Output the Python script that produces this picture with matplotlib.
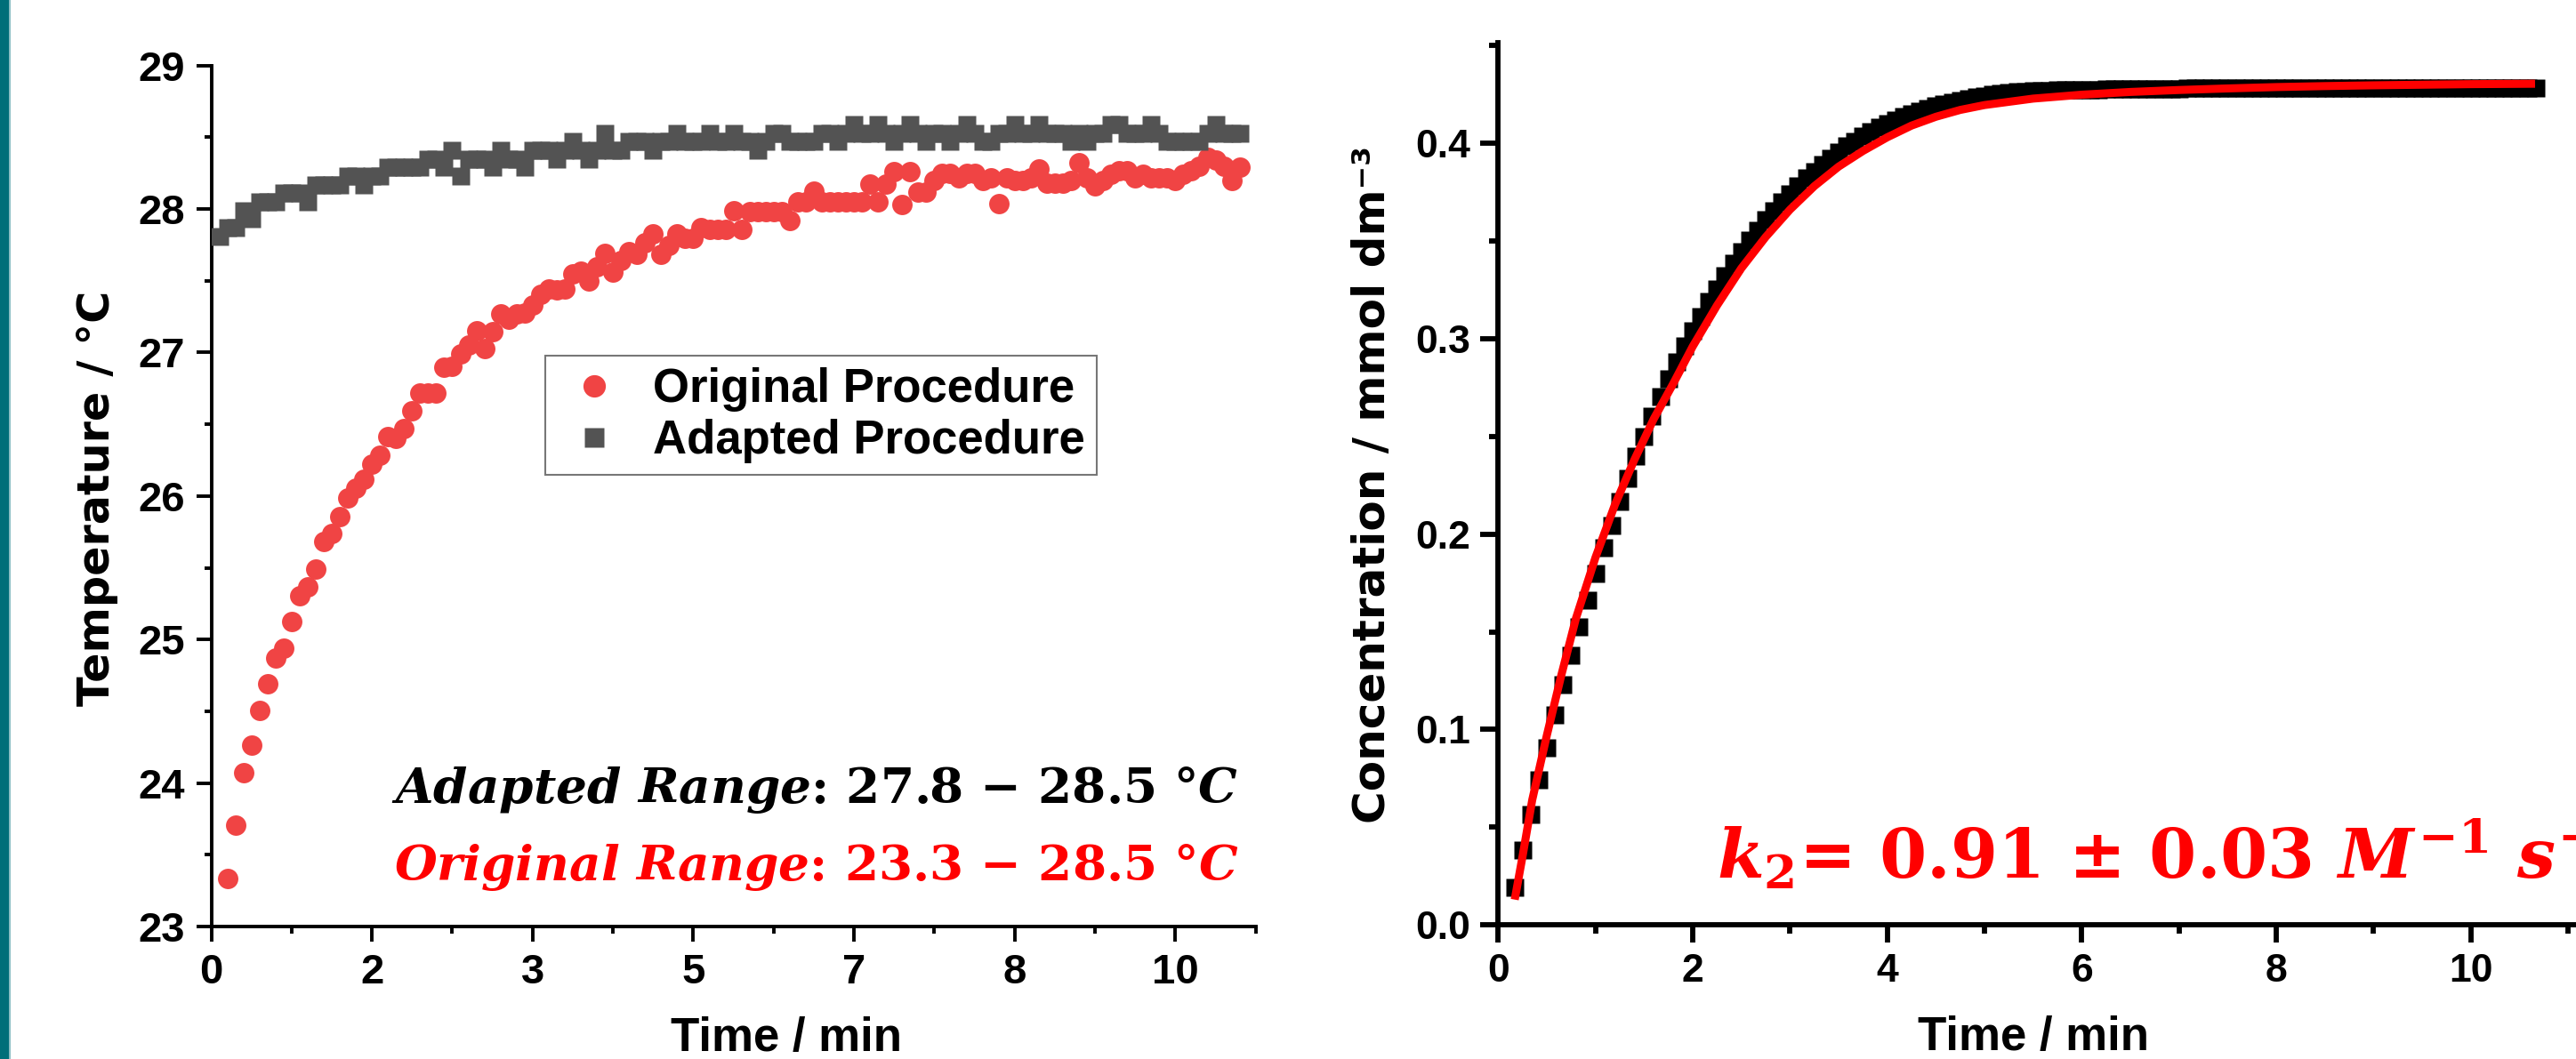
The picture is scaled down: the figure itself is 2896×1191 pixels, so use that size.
import numpy as np
import matplotlib
matplotlib.use('Agg')
import matplotlib.pyplot as plt
from matplotlib.ticker import FixedLocator, MultipleLocator
from matplotlib.patches import Rectangle

plt.rcParams['mathtext.fontset'] = 'custom'
plt.rcParams['mathtext.it'] = 'DejaVu Serif:italic:bold'
plt.rcParams['mathtext.rm'] = 'DejaVu Serif:bold'
plt.rcParams['mathtext.bf'] = 'DejaVu Serif:bold'

# ---------------- data: left panel (temperature) ----------------
orig_time_s = np.arange(10, 645, 5)      # sampling every 5 s
adapt_time_s = np.arange(5, 645, 5)
orig_temp = [
    23.335, 23.706, 24.073, 24.263, 24.507, 24.693, 24.870, 24.941, 25.127, 25.304,
    25.367, 25.494, 25.683, 25.738, 25.857, 25.987, 26.054, 26.117, 26.224, 26.283,
    26.413, 26.401, 26.468, 26.591, 26.717, 26.717, 26.717, 26.895, 26.902, 26.993,
    27.052, 27.151, 27.025, 27.143, 27.270, 27.230, 27.270, 27.277, 27.329, 27.408,
    27.445, 27.435, 27.440,
    27.548, 27.569, 27.497, 27.600, 27.692, 27.558, 27.641, 27.703, 27.682, 27.765,
    27.827, 27.682, 27.744, 27.827, 27.796, 27.796, 27.868, 27.858, 27.858, 27.858,
    27.991, 27.858, 27.981, 27.981, 27.981, 27.981, 27.981, 27.919, 28.053, 28.053,
    28.126, 28.053, 28.053, 28.053, 28.053, 28.053, 28.053, 28.177, 28.053, 28.177,
    28.260,
    28.03, 28.26, 28.12, 28.12, 28.20, 28.25, 28.25, 28.22, 28.25, 28.25,
    28.20, 28.22, 28.04, 28.22, 28.20, 28.20, 28.22, 28.28, 28.18, 28.18,
    28.18, 28.20, 28.32, 28.22, 28.16, 28.20, 28.24, 28.27, 28.27, 28.22,
    28.24, 28.22, 28.22, 28.22, 28.20, 28.24, 28.27, 28.30, 28.36, 28.34,
    28.30, 28.20, 28.29,
]
adapt_temp = [
    27.81, 27.87, 27.87, 27.99, 27.93, 28.05, 28.05, 28.05, 28.11, 28.11,
    28.11, 28.05, 28.17, 28.17, 28.17, 28.17, 28.23, 28.23, 28.17, 28.23,
    28.23, 28.29, 28.29, 28.29, 28.29, 28.29, 28.35, 28.35, 28.29, 28.41,
    28.23, 28.35, 28.35, 28.35, 28.29, 28.41, 28.35, 28.35, 28.29, 28.41,
    28.41, 28.41, 28.35, 28.41, 28.47, 28.41, 28.35, 28.41, 28.53, 28.41,
    28.41, 28.47, 28.47, 28.47, 28.41, 28.47, 28.47, 28.53, 28.47, 28.47,
    28.47, 28.53, 28.47, 28.47, 28.53, 28.47, 28.47, 28.41, 28.47, 28.53,
    28.53, 28.47, 28.47, 28.47, 28.47, 28.53, 28.53, 28.47, 28.53, 28.59,
    28.53, 28.53, 28.59, 28.53, 28.47, 28.53, 28.59, 28.53, 28.47, 28.53,
    28.53, 28.47, 28.53, 28.59, 28.53, 28.47, 28.47, 28.53, 28.53, 28.59,
    28.53, 28.53, 28.59, 28.53, 28.53, 28.53, 28.47, 28.53, 28.47, 28.53,
    28.53, 28.59, 28.59, 28.53, 28.53, 28.53, 28.59, 28.53, 28.47, 28.47,
    28.47, 28.47, 28.47, 28.53, 28.59, 28.53, 28.53, 28.53,
]
left_xtick_s = [0, 100, 200, 300, 400, 500, 600]
left_xtick_labels = ['0', '2', '3', '5', '7', '8', '10']
left_yticks = [23, 24, 25, 26, 27, 28, 29]

# ---------------- data: right panel (concentration) ----------------
conc_time_s = np.arange(10, 645, 5)
conc = [
    0.0193, 0.0384, 0.0566, 0.0741, 0.0908, 0.1076, 0.1231, 0.1380, 0.1524, 0.1662,
    0.1796, 0.1928, 0.2045, 0.2168, 0.2286, 0.2397, 0.2500, 0.2605, 0.2705, 0.2793,
    0.2881, 0.2963, 0.3042, 0.3115, 0.3191, 0.3256, 0.3320, 0.3384, 0.3443, 0.3502,
    0.3555, 0.3607, 0.3654, 0.3698, 0.3742, 0.3783, 0.3821, 0.3856, 0.3892, 0.3924,
    0.3956, 0.3985, 0.4009, 0.4035, 0.4059, 0.4080, 0.4100, 0.4117, 0.4135, 0.4150,
    0.4164, 0.4179, 0.4191, 0.4202, 0.4211, 0.4220, 0.4228, 0.4237, 0.4243, 0.4249,
    0.4255, 0.4261,
    0.4264, 0.4266, 0.4268, 0.4269, 0.4270, 0.4271, 0.4272, 0.4273, 0.4274, 0.4275,
    0.4275, 0.4276, 0.4276, 0.4277, 0.4277, 0.4278, 0.4278, 0.4278, 0.4279, 0.4279,
    0.4279, 0.4280, 0.4280, 0.4280, 0.4280, 0.4281, 0.4281, 0.4281, 0.4281, 0.4281,
    0.4282, 0.4282, 0.4282, 0.4282, 0.4282, 0.4282, 0.4282, 0.4282, 0.4282, 0.4282,
    0.4282, 0.4282, 0.4282, 0.4282, 0.4282, 0.4282, 0.4282, 0.4282, 0.4282, 0.4282,
    0.4283, 0.4283, 0.4283, 0.4283, 0.4283, 0.4283, 0.4283, 0.4283, 0.4283, 0.4283,
    0.4283, 0.4283, 0.4283, 0.4283, 0.4283,
]
fit_time = [0.17, 0.25, 0.35, 0.5, 0.65, 0.8, 1.0, 1.2, 1.4, 1.6, 1.8, 2.0, 2.25, 2.5,
            2.75, 3.0, 3.25, 3.5, 3.75, 4.0, 4.25, 4.5, 4.75, 5.0, 5.5, 6.0, 6.5, 7.0,
            7.5, 8.0, 8.5, 9.0, 9.5, 10.0, 10.66]
fit_conc = [0.013, 0.035, 0.064, 0.097, 0.128, 0.157, 0.188, 0.215, 0.238, 0.259,
            0.277, 0.296, 0.317, 0.336, 0.352, 0.366, 0.378, 0.388, 0.396, 0.403,
            0.409, 0.4135, 0.417, 0.4195, 0.4228, 0.4248, 0.4262, 0.4272, 0.428,
            0.4287, 0.4292, 0.4296, 0.4299, 0.4302, 0.4304]
right_xticks = [0, 2, 4, 6, 8, 10]
right_yticks = [0.0, 0.1, 0.2, 0.3, 0.4]

# ---------------- figure ----------------
W, H = 2896, 1191
fig = plt.figure(figsize=(W / 100, H / 100), dpi=100)
fig.patch.set_facecolor('white')

def fx(px):
    return px / W

def fy(py):
    return 1 - py / H

SANS = 'Liberation Sans'

# teal side bar
fig.patches.append(Rectangle((0, 0), fx(10), 1, transform=fig.transFigure,
                             facecolor='#006F79', edgecolor='none', zorder=0))
fig.patches.append(Rectangle((fx(10), 0), fx(2), 1, transform=fig.transFigure,
                             facecolor='#8DBFC4', edgecolor='none', zorder=0))

# ----- left axes -----
x0, x1, yt, yb = 237.5, 1411.7, 73.7, 1042.0
ax1 = fig.add_axes([fx(x0), fy(yb), fx(x1 - x0), (yb - yt) / H])
ax1.plot(orig_time_s / 60, orig_temp, 'o', color='#F04444', ms=16.5, mec='none',
         label='Original Procedure', zorder=3)
ax1.plot(adapt_time_s / 60, adapt_temp, 's', color='#535353', ms=14.5, mec='none',
         label='Adapted Procedure', zorder=3)
ax1.set_xlim(0, 650 / 60)
ax1.set_ylim(23, 29)
ax1.xaxis.set_major_locator(FixedLocator([s / 60 for s in left_xtick_s]))
ax1.set_xticklabels(left_xtick_labels)
ax1.xaxis.set_minor_locator(FixedLocator([s / 60 for s in range(50, 651, 100)]))
ax1.set_yticks(left_yticks)
ax1.yaxis.set_minor_locator(MultipleLocator(0.5))
for sp in ['top', 'right']:
    ax1.spines[sp].set_visible(False)
for sp in ['left', 'bottom']:
    ax1.spines[sp].set_linewidth(2.8)
ax1.tick_params(which='major', direction='out', length=12.5, width=2.8,
                labelsize=34, pad=9)
ax1.tick_params(which='minor', direction='out', length=5.8, width=2.8)
for lab in ax1.get_xticklabels() + ax1.get_yticklabels():
    lab.set_fontfamily(SANS)
    lab.set_fontweight('bold')

leg = ax1.legend(loc='upper left', bbox_to_anchor=(fx(613), fy(400)),
                 bbox_transform=fig.transFigure, borderaxespad=0,
                 prop={'family': SANS, 'weight': 'bold', 'size': 38},
                 frameon=True, fancybox=False, edgecolor='#555555',
                 borderpad=0.25, labelspacing=0.15, handlelength=1.6,
                 handletextpad=0.45, markerscale=1.1)
leg.get_frame().set_linewidth(1.5)

fig.text(fx(109), fy(560), 'Temperature / °C', rotation=90, ha='center', va='center',
         family='DejaVu Sans', weight='bold', fontsize=35.5)
fig.text(fx(883.5), fy(1182), 'Time / min', ha='center', va='baseline',
         family=SANS, weight='bold', fontsize=38)

fig.text(fx(1392), fy(903.4), r'$Adapted\ Range$: 27.8 $-$ 28.5 °$C$',
         ha='right', va='baseline', family='DejaVu Serif', weight='bold',
         fontsize=39.5, color='black')
fig.text(fx(1392), fy(990), r'$Original\ Range$: 23.3 $-$ 28.5 °$C$',
         ha='right', va='baseline', family='DejaVu Serif', weight='bold',
         fontsize=39.5, color='#FF0000')

# ----- right axes -----
rx0, ry_t, ry_b = 1684.3, 47.8, 1040.3
px_per_min = 109.35
xmax_r = 11.1
ax2 = fig.add_axes([fx(rx0), fy(ry_b), fx(xmax_r * px_per_min), (ry_b - ry_t) / H])
ax2.plot(conc_time_s / 60, conc, 's', color='black', ms=14.5, mec='none', zorder=2)
ax2.plot(fit_time, fit_conc, '-', color='#FF0000', lw=6.5, zorder=3,
         solid_capstyle='butt')
ax2.set_xlim(0, xmax_r)
ax2.set_ylim(0, 0.4515)
ax2.set_xticks(right_xticks)
ax2.xaxis.set_minor_locator(MultipleLocator(1))
ax2.set_yticks(right_yticks)
ax2.set_yticklabels([f'{v:.1f}' for v in right_yticks])
ax2.yaxis.set_minor_locator(MultipleLocator(0.05))
for sp in ['top', 'right']:
    ax2.spines[sp].set_visible(False)
for sp in ['left', 'bottom']:
    ax2.spines[sp].set_linewidth(4.2)
ax2.tick_params(which='major', direction='out', length=14.5, width=4.2,
                labelsize=32, pad=8)
ax2.tick_params(which='minor', direction='out', length=7.5, width=4.2)
for lab in ax2.get_xticklabels() + ax2.get_yticklabels():
    lab.set_fontfamily(SANS)
    lab.set_fontweight('bold')

fig.text(fx(1543), fy(544.5), 'Concentration / mmol dm⁻³', rotation=90,
         ha='center', va='center', family='DejaVu Sans', weight='bold', fontsize=36)
fig.text(fx(2285.7), fy(1180.5), 'Time / min', ha='center', va='baseline',
         family=SANS, weight='bold', fontsize=38)
fig.text(fx(1930), fy(988.3), r'$k_2$= 0.91 $\pm$ 0.03 $M^{-1}$ $s^{-1}$',
         ha='left', va='baseline', family='DejaVu Serif', weight='bold',
         fontsize=55, color='#FF0000')

fig.savefig('out.png', dpi=100)
